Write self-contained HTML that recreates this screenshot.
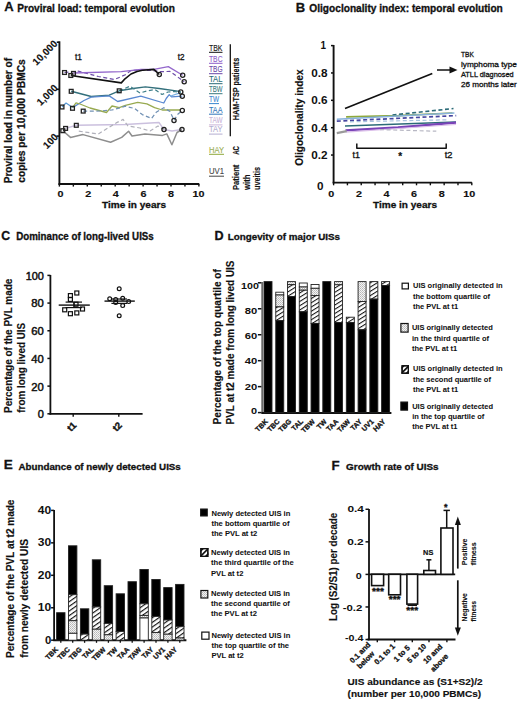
<!DOCTYPE html>
<html><head><meta charset="utf-8"><style>
html,body{margin:0;padding:0;background:#fff;overflow:hidden;}
svg{display:block;font-family:"Liberation Sans", sans-serif;}
</style></head><body>
<svg width="520" height="703" viewBox="0 0 520 703">
<rect width="520" height="703" fill="#fff"/>
<defs>
<pattern id="hatch" patternUnits="userSpaceOnUse" width="12" height="3.6" patternTransform="rotate(-32)"><rect width="12" height="3.6" fill="#fff"/><rect y="0" width="12" height="1.05" fill="#111"/></pattern>
<pattern id="hatch2" patternUnits="userSpaceOnUse" width="12" height="3.8" patternTransform="rotate(-35)"><rect width="12" height="3.8" fill="#fff"/><rect y="0" width="12" height="1.15" fill="#111"/></pattern>
<pattern id="dots" patternUnits="userSpaceOnUse" width="2" height="2"><rect width="2" height="2" fill="#f4f4f4"/><rect width="1" height="1" fill="#b8b8b8"/><rect x="1" y="1" width="1" height="1" fill="#c8c8c8"/></pattern>
</defs>
<text transform="translate(4.3,11.3)" font-size="13" font-weight="bold" fill="#111" text-anchor="start" stroke="#111" stroke-width="0.3">A</text>
<text transform="translate(17.3,11.5)" font-size="10" font-weight="bold" fill="#111" text-anchor="start" stroke="#111" stroke-width="0.3" textLength="157.5" lengthAdjust="spacingAndGlyphs">Proviral load: temporal evolution</text>
<text transform="translate(12.0,120.6) rotate(-90)" font-size="10" font-weight="bold" fill="#111" text-anchor="middle" stroke="#111" stroke-width="0.25" textLength="125.5" lengthAdjust="spacingAndGlyphs">Proviral load in number of</text>
<text transform="translate(24.6,121) rotate(-90)" font-size="10" font-weight="bold" fill="#111" text-anchor="middle" stroke="#111" stroke-width="0.25" textLength="123.5" lengthAdjust="spacingAndGlyphs">copies per 10,000 PBMCs</text>
<line x1="59.4" y1="41.3" x2="59.4" y2="184.8" stroke="#111" stroke-width="1.9" />
<line x1="56.8" y1="42.2" x2="59.4" y2="42.2" stroke="#111" stroke-width="1.6" />
<line x1="56.4" y1="89.3" x2="59.4" y2="89.3" stroke="#111" stroke-width="1.6" />
<line x1="56.4" y1="136.1" x2="59.4" y2="136.1" stroke="#111" stroke-width="1.6" />
<text transform="translate(58.2,44.4) rotate(-45)" font-size="10" font-weight="bold" fill="#111" text-anchor="end" stroke="#111" stroke-width="0.15">10,000</text>
<text transform="translate(58.5,88.6) rotate(-45)" font-size="10" font-weight="bold" fill="#111" text-anchor="end" stroke="#111" stroke-width="0.15">1,000</text>
<text transform="translate(58.8,137.6) rotate(-45)" font-size="10" font-weight="bold" fill="#111" text-anchor="end" stroke="#111" stroke-width="0.15">100</text>
<line x1="58.5" y1="184" x2="199.3" y2="184" stroke="#111" stroke-width="1.9" />
<line x1="59.4" y1="184" x2="59.4" y2="186.6" stroke="#111" stroke-width="1.4" />
<line x1="73.35" y1="184" x2="73.35" y2="186.6" stroke="#111" stroke-width="1.4" />
<line x1="87.3" y1="184" x2="87.3" y2="186.6" stroke="#111" stroke-width="1.4" />
<line x1="101.25" y1="184" x2="101.25" y2="186.6" stroke="#111" stroke-width="1.4" />
<line x1="115.19999999999999" y1="184" x2="115.19999999999999" y2="186.6" stroke="#111" stroke-width="1.4" />
<line x1="129.15" y1="184" x2="129.15" y2="186.6" stroke="#111" stroke-width="1.4" />
<line x1="143.1" y1="184" x2="143.1" y2="186.6" stroke="#111" stroke-width="1.4" />
<line x1="157.04999999999998" y1="184" x2="157.04999999999998" y2="186.6" stroke="#111" stroke-width="1.4" />
<line x1="171.0" y1="184" x2="171.0" y2="186.6" stroke="#111" stroke-width="1.4" />
<line x1="184.95" y1="184" x2="184.95" y2="186.6" stroke="#111" stroke-width="1.4" />
<line x1="198.9" y1="184" x2="198.9" y2="186.6" stroke="#111" stroke-width="1.4" />
<text transform="translate(60.6,197.1) scale(1.1,1)" font-size="9.8" font-weight="bold" fill="#111" text-anchor="middle" stroke="#111" stroke-width="0.15">0</text>
<text transform="translate(88.2,197.1) scale(1.1,1)" font-size="9.8" font-weight="bold" fill="#111" text-anchor="middle" stroke="#111" stroke-width="0.15">2</text>
<text transform="translate(115.80000000000001,197.1) scale(1.1,1)" font-size="9.8" font-weight="bold" fill="#111" text-anchor="middle" stroke="#111" stroke-width="0.15">4</text>
<text transform="translate(143.4,197.1) scale(1.1,1)" font-size="9.8" font-weight="bold" fill="#111" text-anchor="middle" stroke="#111" stroke-width="0.15">6</text>
<text transform="translate(171.0,197.1) scale(1.1,1)" font-size="9.8" font-weight="bold" fill="#111" text-anchor="middle" stroke="#111" stroke-width="0.15">8</text>
<text transform="translate(198.6,197.1) scale(1.1,1)" font-size="9.8" font-weight="bold" fill="#111" text-anchor="middle" stroke="#111" stroke-width="0.15">10</text>
<text transform="translate(134,208.3)" font-size="9.6" font-weight="bold" fill="#111" text-anchor="middle" stroke="#111" stroke-width="0.3" textLength="64" lengthAdjust="spacingAndGlyphs">Time in years</text>
<text transform="translate(75,59.9)" font-size="8.6" font-weight="normal" fill="#111" text-anchor="start" stroke="#111" stroke-width="0.3" textLength="7" lengthAdjust="spacingAndGlyphs">t1</text>
<text transform="translate(177.7,59.9)" font-size="8.6" font-weight="normal" fill="#111" text-anchor="start" stroke="#111" stroke-width="0.3" textLength="6.8" lengthAdjust="spacingAndGlyphs">t2</text>
<path d="M64.5,72.5 L78.2,71.2 L98.4,76.5 L114.5,79.5 L125.3,74.8 L131.0,70.5 L140.0,70.0 L152.0,70.5 L161.0,71.6 L170.0,71.4 L184.2,81.7" fill="none" stroke="#6c4ca8" stroke-width="1.2" stroke-linejoin="round" stroke-linecap="butt" stroke-dasharray="4,2.6" />
<path d="M73.5,73.0 L121.3,71.7 L128.0,70.8 L141.0,69.5 L153.9,69.4 L168.3,66.6 L182.7,75.2" fill="none" stroke="#9468cc" stroke-width="1.3" stroke-linejoin="round" stroke-linecap="butt" />
<path d="M70.8,75.5 L121.3,82.9 L125.0,78.8 L131.0,74.0 L137.0,71.5 L142.3,70.2 L153.9,69.4 L159.3,74.5" fill="none" stroke="#111" stroke-width="1.6" stroke-linejoin="round" stroke-linecap="butt" />
<path d="M71.2,91.3 L91.2,96.5 L109.2,95.2 L119.2,90.8 L133.0,88.5 L145.4,86.9 L159.2,88.5 L177.7,91.1 L180.8,92.0" fill="none" stroke="#33707c" stroke-width="1.4" stroke-linejoin="round" stroke-linecap="butt" />
<path d="M119.2,90.8 L130.0,86.2 L134.6,89.5 L140.0,93.0 L147.0,91.0 L155.0,89.5 L162.0,94.5 L168.0,92.0 L175.0,91.5 L181.0,93.0" fill="none" stroke="#40808a" stroke-width="1.2" stroke-linejoin="round" stroke-linecap="butt" stroke-dasharray="4,2.6" />
<path d="M72.5,107.6 L84.0,100.5 L91.2,97.2 L109.2,95.9 L117.7,101.5 L140.8,96.2 L163.8,103.0 L166.2,98.5 L169.2,94.6 L171.5,96.9 L182.3,96.2" fill="none" stroke="#5a88d0" stroke-width="1.3" stroke-linejoin="round" stroke-linecap="butt" />
<path d="M62.0,107.0 L66.0,103.0 L69.0,105.0 L72.5,107.6" fill="none" stroke="#5a9ad6" stroke-width="1.2" stroke-linejoin="round" stroke-linecap="butt" />
<path d="M170.0,96.2 L179.2,93.1" fill="none" stroke="#7ab0e0" stroke-width="1.2" stroke-linejoin="round" stroke-linecap="butt" />
<path d="M72.5,107.6 L76.0,102.8 L80.0,104.0 L90.0,108.0 L106.5,112.5 L112.0,106.0 L119.2,107.7 L125.4,105.4 L137.7,102.3 L146.9,103.8 L154.6,107.7 L162.3,110.0 L180.8,110.0" fill="none" stroke="#98aa50" stroke-width="1.3" stroke-linejoin="round" stroke-linecap="butt" />
<path d="M83.2,111.1 L100.0,111.0 L112.0,110.0 L125.4,106.2 L134.6,108.5 L142.3,114.6 L151.5,118.5 L156.2,112.3 L163.8,107.7 L170.0,111.5 L174.0,120.2 L178.0,114.0 L182.7,110.4" fill="none" stroke="#7090b4" stroke-width="1.25" stroke-linejoin="round" stroke-linecap="butt" stroke-dasharray="4,2.6" />
<path d="M65.6,128.4 L76.3,125.3 L125.0,124.5 L158.9,122.4 L164.0,129.6 L172.0,131.0 L182.0,129.6" fill="none" stroke="#cbc0de" stroke-width="1.5" stroke-linejoin="round" stroke-linecap="butt" />
<path d="M78.8,131.2 L98.2,134.0 L116.2,122.9 L123.1,119.4 L128.0,126.0 L140.0,128.0 L150.0,131.0 L158.0,126.0 L164.0,129.6" fill="none" stroke="#b0b0ba" stroke-width="1.2" stroke-linejoin="round" stroke-linecap="butt" stroke-dasharray="4,2.6" />
<path d="M62.8,130.7 L70.5,137.4 L83.0,134.6 L110.6,142.2 L121.7,137.4 L128.6,131.2 L132.0,136.0 L145.0,134.0 L162.5,135.4 L166.8,133.9 L171.9,144.7 L177.0,132.5 L182.0,129.6" fill="none" stroke="#8e8e8e" stroke-width="1.5" stroke-linejoin="round" stroke-linecap="butt" />
<rect x="62.60" y="70.60" width="3.80" height="3.80" fill="none" stroke="#222" stroke-width="1.3"/>
<rect x="71.60" y="71.50" width="3.80" height="3.80" fill="none" stroke="#222" stroke-width="1.3"/>
<rect x="68.90" y="73.60" width="3.80" height="3.80" fill="none" stroke="#222" stroke-width="1.3"/>
<rect x="69.30" y="89.40" width="3.80" height="3.80" fill="none" stroke="#222" stroke-width="1.3"/>
<rect x="117.30" y="88.90" width="3.80" height="3.80" fill="none" stroke="#222" stroke-width="1.3"/>
<rect x="60.10" y="105.10" width="3.80" height="3.80" fill="none" stroke="#222" stroke-width="1.3"/>
<rect x="70.60" y="106.40" width="3.80" height="3.80" fill="none" stroke="#222" stroke-width="1.3"/>
<rect x="81.30" y="109.20" width="3.80" height="3.80" fill="none" stroke="#222" stroke-width="1.3"/>
<rect x="60.90" y="128.80" width="3.80" height="3.80" fill="none" stroke="#222" stroke-width="1.3"/>
<rect x="63.70" y="126.50" width="3.80" height="3.80" fill="none" stroke="#222" stroke-width="1.3"/>
<rect x="74.40" y="123.40" width="3.80" height="3.80" fill="none" stroke="#222" stroke-width="1.3"/>
<circle cx="159.3" cy="74.5" r="2.1" fill="none" stroke="#222" stroke-width="1.3"/>
<circle cx="182.7" cy="75.2" r="2.1" fill="none" stroke="#222" stroke-width="1.3"/>
<circle cx="184.2" cy="81.7" r="2.1" fill="none" stroke="#222" stroke-width="1.3"/>
<circle cx="180.8" cy="92" r="2.1" fill="none" stroke="#222" stroke-width="1.3"/>
<circle cx="182.3" cy="96.2" r="2.1" fill="none" stroke="#222" stroke-width="1.3"/>
<circle cx="182.3" cy="110.5" r="2.1" fill="none" stroke="#222" stroke-width="1.3"/>
<circle cx="174" cy="120.5" r="2.1" fill="none" stroke="#222" stroke-width="1.3"/>
<circle cx="164" cy="129.6" r="2.1" fill="none" stroke="#222" stroke-width="1.3"/>
<circle cx="182" cy="129.6" r="2.1" fill="none" stroke="#222" stroke-width="1.3"/>
<text transform="translate(209,50.6)" font-size="8.5" font-weight="normal" fill="#111" text-anchor="start" stroke="#111" stroke-width="0.1" textLength="13.5" lengthAdjust="spacingAndGlyphs">TBK</text>
<line x1="209" y1="52.300000000000004" x2="222.5" y2="52.300000000000004" stroke="#111" stroke-width="1.0" />
<text transform="translate(209,61.6)" font-size="8.5" font-weight="normal" fill="#8c5cc8" text-anchor="start" stroke="#8c5cc8" stroke-width="0.1" textLength="13.5" lengthAdjust="spacingAndGlyphs">TBC</text>
<line x1="209" y1="63.300000000000004" x2="222.5" y2="63.300000000000004" stroke="#8c5cc8" stroke-width="1.0" />
<text transform="translate(209,72)" font-size="8.5" font-weight="normal" fill="#6a48a8" text-anchor="start" stroke="#6a48a8" stroke-width="0.1" textLength="13.5" lengthAdjust="spacingAndGlyphs">TBG</text>
<line x1="209" y1="73.7" x2="222.5" y2="73.7" stroke="#6a48a8" stroke-width="1.0" />
<text transform="translate(209,82)" font-size="8.5" font-weight="normal" fill="#2c6b78" text-anchor="start" stroke="#2c6b78" stroke-width="0.1" textLength="13.5" lengthAdjust="spacingAndGlyphs">TAL</text>
<line x1="209" y1="83.7" x2="222.5" y2="83.7" stroke="#2c6b78" stroke-width="1.0" />
<text transform="translate(209,92)" font-size="8.5" font-weight="normal" fill="#3a7a80" text-anchor="start" stroke="#3a7a80" stroke-width="0.1" textLength="13.5" lengthAdjust="spacingAndGlyphs">TBW</text>
<line x1="209" y1="93.7" x2="222.5" y2="93.7" stroke="#3a7a80" stroke-width="1.0" />
<text transform="translate(209,101.9)" font-size="8.5" font-weight="normal" fill="#3a87d0" text-anchor="start" stroke="#3a87d0" stroke-width="0.1" textLength="10" lengthAdjust="spacingAndGlyphs">TW</text>
<line x1="209" y1="103.60000000000001" x2="219" y2="103.60000000000001" stroke="#3a87d0" stroke-width="1.0" />
<text transform="translate(209,112.5)" font-size="8.5" font-weight="normal" fill="#2f74b8" text-anchor="start" stroke="#2f74b8" stroke-width="0.1" textLength="13.5" lengthAdjust="spacingAndGlyphs">TAA</text>
<line x1="209" y1="114.2" x2="222.5" y2="114.2" stroke="#2f74b8" stroke-width="1.0" />
<text transform="translate(209,123.2)" font-size="8.5" font-weight="normal" fill="#c9b4d8" text-anchor="start" stroke="#c9b4d8" stroke-width="0.1" textLength="13.5" lengthAdjust="spacingAndGlyphs">TAW</text>
<line x1="209" y1="124.9" x2="222.5" y2="124.9" stroke="#c9b4d8" stroke-width="1.0" />
<text transform="translate(209,132.4)" font-size="8.5" font-weight="normal" fill="#b4aed0" text-anchor="start" stroke="#b4aed0" stroke-width="0.1" textLength="13.5" lengthAdjust="spacingAndGlyphs">TAY</text>
<line x1="209" y1="134.1" x2="222.5" y2="134.1" stroke="#b4aed0" stroke-width="1.0" />
<line x1="230.3" y1="44.2" x2="230.3" y2="136.3" stroke="#111" stroke-width="1.3" />
<text transform="translate(239.3,89) rotate(-90)" font-size="9" font-weight="bold" fill="#111" text-anchor="middle" stroke="#111" stroke-width="0.15" textLength="62.5" lengthAdjust="spacingAndGlyphs">HAM-TSP patients</text>
<text transform="translate(209,152.5)" font-size="8.3" font-weight="normal" fill="#98ac50" text-anchor="start" stroke="#98ac50" stroke-width="0.1" textLength="15" lengthAdjust="spacingAndGlyphs">HAY</text>
<line x1="209" y1="154.3" x2="224" y2="154.3" stroke="#8ea83a" stroke-width="1.0" />
<text transform="translate(209,174.4)" font-size="8.3" font-weight="normal" fill="#444" text-anchor="start" stroke="#444" stroke-width="0.1" textLength="15" lengthAdjust="spacingAndGlyphs">UV1</text>
<line x1="209" y1="176.2" x2="224" y2="176.2" stroke="#444" stroke-width="1.0" />
<text transform="translate(239,154.8) rotate(-90)" font-size="9" font-weight="bold" fill="#111" text-anchor="start" stroke="#111" stroke-width="0.15" textLength="8.8" lengthAdjust="spacingAndGlyphs">AC</text>
<text transform="translate(239,190) rotate(-90)" font-size="9" font-weight="bold" fill="#111" text-anchor="start" stroke="#111" stroke-width="0.15" textLength="25.4" lengthAdjust="spacingAndGlyphs">Patient</text>
<text transform="translate(250,190) rotate(-90)" font-size="9" font-weight="bold" fill="#111" text-anchor="start" stroke="#111" stroke-width="0.15" textLength="15.6" lengthAdjust="spacingAndGlyphs">with</text>
<text transform="translate(260.4,190) rotate(-90)" font-size="9" font-weight="bold" fill="#111" text-anchor="start" stroke="#111" stroke-width="0.15" textLength="23" lengthAdjust="spacingAndGlyphs">uveitis</text>
<text transform="translate(295.8,11.5)" font-size="13" font-weight="bold" fill="#111" text-anchor="start" stroke="#111" stroke-width="0.3">B</text>
<text transform="translate(309.3,11.5)" font-size="10" font-weight="bold" fill="#111" text-anchor="start" stroke="#111" stroke-width="0.3" textLength="193.5" lengthAdjust="spacingAndGlyphs">Oligoclonality index: temporal  evolution</text>
<line x1="333.6" y1="45" x2="333.6" y2="183.3" stroke="#111" stroke-width="1.9" />
<line x1="331.0" y1="45.599999999999994" x2="333.6" y2="45.599999999999994" stroke="#111" stroke-width="1.5" />
<text transform="translate(326.06,49.0)" font-size="10.2" font-weight="bold" fill="#111" text-anchor="end" textLength="5.52" lengthAdjust="spacingAndGlyphs">1</text>
<line x1="331.0" y1="72.96" x2="333.6" y2="72.96" stroke="#111" stroke-width="1.5" />
<text transform="translate(327.46,76.96)" font-size="10.2" font-weight="bold" fill="#111" text-anchor="end" textLength="16.32" lengthAdjust="spacingAndGlyphs">0.8</text>
<line x1="331.0" y1="100.32000000000001" x2="333.6" y2="100.32000000000001" stroke="#111" stroke-width="1.5" />
<text transform="translate(327.46,104.32000000000001)" font-size="10.2" font-weight="bold" fill="#111" text-anchor="end" textLength="16.32" lengthAdjust="spacingAndGlyphs">0.6</text>
<line x1="331.0" y1="127.68" x2="333.6" y2="127.68" stroke="#111" stroke-width="1.5" />
<text transform="translate(327.46,131.68)" font-size="10.2" font-weight="bold" fill="#111" text-anchor="end" textLength="16.32" lengthAdjust="spacingAndGlyphs">0.4</text>
<line x1="331.0" y1="155.04" x2="333.6" y2="155.04" stroke="#111" stroke-width="1.5" />
<text transform="translate(327.46,159.04)" font-size="10.2" font-weight="bold" fill="#111" text-anchor="end" textLength="16.32" lengthAdjust="spacingAndGlyphs">0.2</text>
<text transform="translate(323.56,189.6)" font-size="10.2" font-weight="bold" fill="#111" text-anchor="end" textLength="6.52" lengthAdjust="spacingAndGlyphs">0</text>
<text transform="translate(303.0,117.6) rotate(-90)" font-size="10" font-weight="bold" fill="#111" text-anchor="middle" stroke="#111" stroke-width="0.15" textLength="96.5" lengthAdjust="spacingAndGlyphs">Oligoclonality index</text>
<line x1="332.7" y1="182.6" x2="471.9" y2="182.6" stroke="#111" stroke-width="1.9" />
<line x1="333.6" y1="182.6" x2="333.6" y2="185.3" stroke="#111" stroke-width="1.4" />
<line x1="347.42" y1="182.6" x2="347.42" y2="185.3" stroke="#111" stroke-width="1.4" />
<line x1="361.24" y1="182.6" x2="361.24" y2="185.3" stroke="#111" stroke-width="1.4" />
<line x1="375.06" y1="182.6" x2="375.06" y2="185.3" stroke="#111" stroke-width="1.4" />
<line x1="388.88" y1="182.6" x2="388.88" y2="185.3" stroke="#111" stroke-width="1.4" />
<line x1="402.70000000000005" y1="182.6" x2="402.70000000000005" y2="185.3" stroke="#111" stroke-width="1.4" />
<line x1="416.52000000000004" y1="182.6" x2="416.52000000000004" y2="185.3" stroke="#111" stroke-width="1.4" />
<line x1="430.34000000000003" y1="182.6" x2="430.34000000000003" y2="185.3" stroke="#111" stroke-width="1.4" />
<line x1="444.16" y1="182.6" x2="444.16" y2="185.3" stroke="#111" stroke-width="1.4" />
<line x1="457.98" y1="182.6" x2="457.98" y2="185.3" stroke="#111" stroke-width="1.4" />
<line x1="471.8" y1="182.6" x2="471.8" y2="185.3" stroke="#111" stroke-width="1.4" />
<text transform="translate(331.3,197.3) scale(1.1,1)" font-size="9.8" font-weight="bold" fill="#111" text-anchor="middle" stroke="#111" stroke-width="0.15">0</text>
<text transform="translate(358.90000000000003,197.3) scale(1.1,1)" font-size="9.8" font-weight="bold" fill="#111" text-anchor="middle" stroke="#111" stroke-width="0.15">2</text>
<text transform="translate(386.5,197.3) scale(1.1,1)" font-size="9.8" font-weight="bold" fill="#111" text-anchor="middle" stroke="#111" stroke-width="0.15">4</text>
<text transform="translate(414.1,197.3) scale(1.1,1)" font-size="9.8" font-weight="bold" fill="#111" text-anchor="middle" stroke="#111" stroke-width="0.15">6</text>
<text transform="translate(441.70000000000005,197.3) scale(1.1,1)" font-size="9.8" font-weight="bold" fill="#111" text-anchor="middle" stroke="#111" stroke-width="0.15">8</text>
<text transform="translate(469.3,197.3) scale(1.1,1)" font-size="9.8" font-weight="bold" fill="#111" text-anchor="middle" stroke="#111" stroke-width="0.15">10</text>
<text transform="translate(405,208.3)" font-size="9.6" font-weight="bold" fill="#111" text-anchor="middle" stroke="#111" stroke-width="0.3" textLength="64" lengthAdjust="spacingAndGlyphs">Time in years</text>
<path d="M345.0,108.5 L432.3,73.5" fill="none" stroke="#111" stroke-width="1.7" stroke-linejoin="round" stroke-linecap="butt" />
<line x1="437" y1="70" x2="451" y2="70" stroke="#111" stroke-width="1.5" />
<path d="M449.5,66.6 L457.5,70 L449.5,73.4 Z" fill="#111"/>
<text transform="translate(461,57.3)" font-size="7.7" font-weight="normal" fill="#111" text-anchor="start" stroke="#111" stroke-width="0.3" textLength="12.8" lengthAdjust="spacingAndGlyphs">TBK</text>
<text transform="translate(461,67)" font-size="7.7" font-weight="normal" fill="#111" text-anchor="start" stroke="#111" stroke-width="0.3" textLength="55.8" lengthAdjust="spacingAndGlyphs">lymphoma type</text>
<text transform="translate(461,77.4)" font-size="7.7" font-weight="normal" fill="#111" text-anchor="start" stroke="#111" stroke-width="0.3" textLength="52.7" lengthAdjust="spacingAndGlyphs">ATLL diagnosed</text>
<text transform="translate(461,86.8)" font-size="7.7" font-weight="normal" fill="#111" text-anchor="start" stroke="#111" stroke-width="0.3" textLength="55.8" lengthAdjust="spacingAndGlyphs">26 months later</text>
<path d="M346.1,116.9 L398.0,115.6 L452.5,113.0" fill="none" stroke="#8ea83a" stroke-width="1.6" stroke-linejoin="round" stroke-linecap="butt" />
<path d="M392.5,115.0 L453.5,108.5" fill="none" stroke="#2c6b78" stroke-width="1.6" stroke-linejoin="round" stroke-linecap="butt" stroke-dasharray="4,2.6" />
<path d="M336.8,119.2 L454.4,112.9" fill="none" stroke="#86b2dc" stroke-width="1.5" stroke-linejoin="round" stroke-linecap="butt" />
<path d="M336.8,121.2 L456.2,115.6" fill="none" stroke="#4646a0" stroke-width="1.7" stroke-linejoin="round" stroke-linecap="butt" stroke-dasharray="4,2.6" />
<path d="M350.0,121.8 L447.5,119.8" fill="none" stroke="#a8c4e0" stroke-width="1.2" stroke-linejoin="round" stroke-linecap="butt" stroke-dasharray="4,2.6" />
<path d="M345.0,126.0 L456.0,122.0" fill="none" stroke="#2c6b78" stroke-width="1.5" stroke-linejoin="round" stroke-linecap="butt" />
<path d="M345.5,130.3 L398.0,127.5 L456.0,122.6" fill="none" stroke="#7a44b8" stroke-width="2.3" stroke-linejoin="round" stroke-linecap="butt" />
<path d="M345.5,132.2 L456.0,124.5" fill="none" stroke="#dcc0ea" stroke-width="1.2" stroke-linejoin="round" stroke-linecap="butt" />
<path d="M336.8,133.1 L346.7,131.2" fill="none" stroke="#9a9a9a" stroke-width="2.3" stroke-linejoin="round" stroke-linecap="butt" />
<path d="M380.0,129.6 L436.3,131.2" fill="none" stroke="#b8b8c4" stroke-width="1.2" stroke-linejoin="round" stroke-linecap="butt" stroke-dasharray="4,2.6" />
<path d="M356.8,143.5 L356.8,148.3 L446.2,148.3 L446.2,143.5" fill="none" stroke="#111" stroke-width="1.5" stroke-linejoin="round" stroke-linecap="butt" />
<text transform="translate(352.5,157.8)" font-size="8.6" font-weight="normal" fill="#111" text-anchor="start" stroke="#111" stroke-width="0.3" textLength="7.5" lengthAdjust="spacingAndGlyphs">t1</text>
<text transform="translate(400.3,159.9)" font-size="10" font-weight="bold" fill="#111" text-anchor="middle" stroke="#111" stroke-width="0.2">*</text>
<text transform="translate(444.7,157.8)" font-size="8.6" font-weight="normal" fill="#111" text-anchor="start" stroke="#111" stroke-width="0.3" textLength="7.8" lengthAdjust="spacingAndGlyphs">t2</text>
<text transform="translate(1.3,239.7)" font-size="12.3" font-weight="bold" fill="#111" text-anchor="start" stroke="#111" stroke-width="0.3">C</text>
<text transform="translate(16.2,239.8)" font-size="10" font-weight="bold" fill="#111" text-anchor="start" stroke="#111" stroke-width="0.3" textLength="137.6" lengthAdjust="spacingAndGlyphs">Dominance of long-lived UISs</text>
<line x1="50.4" y1="275" x2="50.4" y2="414.6" stroke="#111" stroke-width="1.8" />
<line x1="47.4" y1="275.40000000000003" x2="50.4" y2="275.40000000000003" stroke="#111" stroke-width="1.5" />
<text transform="translate(43.86,279.8)" font-size="10.3" font-weight="normal" fill="#111" text-anchor="end" stroke="#111" stroke-width="0.45" textLength="18.23" lengthAdjust="spacingAndGlyphs">100</text>
<line x1="47.4" y1="303.08000000000004" x2="50.4" y2="303.08000000000004" stroke="#111" stroke-width="1.5" />
<text transform="translate(43.86,307.48)" font-size="10.3" font-weight="normal" fill="#111" text-anchor="end" stroke="#111" stroke-width="0.45" textLength="12.53" lengthAdjust="spacingAndGlyphs">80</text>
<line x1="47.4" y1="330.76" x2="50.4" y2="330.76" stroke="#111" stroke-width="1.5" />
<text transform="translate(43.86,335.15999999999997)" font-size="10.3" font-weight="normal" fill="#111" text-anchor="end" stroke="#111" stroke-width="0.45" textLength="12.53" lengthAdjust="spacingAndGlyphs">60</text>
<line x1="47.4" y1="358.44" x2="50.4" y2="358.44" stroke="#111" stroke-width="1.5" />
<text transform="translate(43.86,362.84)" font-size="10.3" font-weight="normal" fill="#111" text-anchor="end" stroke="#111" stroke-width="0.45" textLength="12.53" lengthAdjust="spacingAndGlyphs">40</text>
<line x1="47.4" y1="386.12" x2="50.4" y2="386.12" stroke="#111" stroke-width="1.5" />
<text transform="translate(43.86,390.52)" font-size="10.3" font-weight="normal" fill="#111" text-anchor="end" stroke="#111" stroke-width="0.45" textLength="12.53" lengthAdjust="spacingAndGlyphs">20</text>
<line x1="47.4" y1="413.8" x2="50.4" y2="413.8" stroke="#111" stroke-width="1.5" />
<text transform="translate(43.86,418.2)" font-size="10.3" font-weight="normal" fill="#111" text-anchor="end" stroke="#111" stroke-width="0.45" textLength="6.13" lengthAdjust="spacingAndGlyphs">0</text>
<line x1="49.5" y1="413.8" x2="142.6" y2="413.8" stroke="#111" stroke-width="1.8" />
<line x1="73.2" y1="413.8" x2="73.2" y2="416.8" stroke="#111" stroke-width="1.4" />
<line x1="118.8" y1="413.8" x2="118.8" y2="416.8" stroke="#111" stroke-width="1.4" />
<text transform="translate(77.0,425.9) rotate(-45)" font-size="9.6" font-weight="bold" fill="#111" text-anchor="end" stroke="#111" stroke-width="0.4">t1</text>
<text transform="translate(122.6,425.9) rotate(-45)" font-size="9.6" font-weight="bold" fill="#111" text-anchor="end" stroke="#111" stroke-width="0.4">t2</text>
<text transform="translate(12.0,413.0) rotate(-90)" font-size="10.3" font-weight="bold" fill="#111" text-anchor="start" stroke="#111" stroke-width="0.15" textLength="134.4" lengthAdjust="spacingAndGlyphs">Percentage of the PVL made</text>
<text transform="translate(25.0,412.7) rotate(-90)" font-size="10.3" font-weight="bold" fill="#111" text-anchor="start" stroke="#111" stroke-width="0.15" textLength="89.8" lengthAdjust="spacingAndGlyphs">from long lived UIS</text>
<rect x="68.40" y="293.60" width="4.00" height="4.00" fill="none" stroke="#111" stroke-width="1.2"/>
<rect x="74.80" y="291.00" width="4.00" height="4.00" fill="none" stroke="#111" stroke-width="1.2"/>
<rect x="68.40" y="297.40" width="4.00" height="4.00" fill="none" stroke="#111" stroke-width="1.2"/>
<rect x="74.00" y="302.20" width="4.00" height="4.00" fill="none" stroke="#111" stroke-width="1.2"/>
<rect x="62.70" y="307.80" width="4.00" height="4.00" fill="none" stroke="#111" stroke-width="1.2"/>
<rect x="80.50" y="307.00" width="4.00" height="4.00" fill="none" stroke="#111" stroke-width="1.2"/>
<rect x="68.40" y="311.70" width="4.00" height="4.00" fill="none" stroke="#111" stroke-width="1.2"/>
<rect x="74.80" y="310.90" width="4.00" height="4.00" fill="none" stroke="#111" stroke-width="1.2"/>
<line x1="58.7" y1="305.1" x2="89.8" y2="305.1" stroke="#111" stroke-width="1.4" />
<line x1="65.6" y1="302.1" x2="82" y2="302.1" stroke="#111" stroke-width="1.2" />
<line x1="65.6" y1="307.6" x2="82" y2="307.6" stroke="#111" stroke-width="1.2" />
<line x1="74" y1="302.1" x2="74" y2="307.6" stroke="#111" stroke-width="1.2" />
<circle cx="119.2" cy="288.7" r="1.9" fill="none" stroke="#111" stroke-width="1.2"/>
<circle cx="109.7" cy="298.7" r="1.9" fill="none" stroke="#111" stroke-width="1.2"/>
<circle cx="115.7" cy="299.4" r="1.9" fill="none" stroke="#111" stroke-width="1.2"/>
<circle cx="122.7" cy="298.2" r="1.9" fill="none" stroke="#111" stroke-width="1.2"/>
<circle cx="128.7" cy="301.6" r="1.9" fill="none" stroke="#111" stroke-width="1.2"/>
<circle cx="115.7" cy="302.5" r="1.9" fill="none" stroke="#111" stroke-width="1.2"/>
<circle cx="122.7" cy="305.6" r="1.9" fill="none" stroke="#111" stroke-width="1.2"/>
<circle cx="119.2" cy="315.8" r="1.9" fill="none" stroke="#111" stroke-width="1.2"/>
<line x1="104.5" y1="301.1" x2="134.8" y2="301.1" stroke="#111" stroke-width="1.4" />
<line x1="111.4" y1="299" x2="127" y2="299" stroke="#111" stroke-width="1.2" />
<line x1="111.4" y1="303.4" x2="127" y2="303.4" stroke="#111" stroke-width="1.2" />
<text transform="translate(214.4,240.2)" font-size="12.6" font-weight="bold" fill="#111" text-anchor="start" stroke="#111" stroke-width="0.3">D</text>
<text transform="translate(227.7,240.2)" font-size="9.3" font-weight="bold" fill="#111" text-anchor="start" stroke="#111" stroke-width="0.3" textLength="112.3" lengthAdjust="spacingAndGlyphs">Longevity of major UISs</text>
<line x1="262.2" y1="282" x2="262.2" y2="412.5" stroke="#6a6a6a" stroke-width="1.8" />
<line x1="257.9" y1="282.8" x2="261.4" y2="282.8" stroke="#111" stroke-width="1.5" />
<line x1="257.9" y1="308.76" x2="261.4" y2="308.76" stroke="#111" stroke-width="1.5" />
<line x1="257.9" y1="334.72" x2="261.4" y2="334.72" stroke="#111" stroke-width="1.5" />
<line x1="257.9" y1="360.68" x2="261.4" y2="360.68" stroke="#111" stroke-width="1.5" />
<line x1="257.9" y1="386.64000000000004" x2="261.4" y2="386.64000000000004" stroke="#111" stroke-width="1.5" />
<line x1="257.9" y1="412.6" x2="261.4" y2="412.6" stroke="#111" stroke-width="1.5" />
<text transform="translate(257.15,314.3)" font-size="9.9" font-weight="bold" fill="#111" text-anchor="end" textLength="12.49" lengthAdjust="spacingAndGlyphs">80</text>
<text transform="translate(257.15,339.2)" font-size="9.9" font-weight="bold" fill="#111" text-anchor="end" textLength="12.49" lengthAdjust="spacingAndGlyphs">60</text>
<text transform="translate(257.15,364.4)" font-size="9.9" font-weight="bold" fill="#111" text-anchor="end" textLength="12.49" lengthAdjust="spacingAndGlyphs">40</text>
<text transform="translate(257.15,389.6)" font-size="9.9" font-weight="bold" fill="#111" text-anchor="end" textLength="12.49" lengthAdjust="spacingAndGlyphs">20</text>
<text transform="translate(257.15,414.4)" font-size="9.9" font-weight="bold" fill="#111" text-anchor="end" textLength="6.09" lengthAdjust="spacingAndGlyphs">0</text>
<text transform="translate(258.85,288.5)" font-size="9.9" font-weight="bold" fill="#111" text-anchor="end" textLength="17.79" lengthAdjust="spacingAndGlyphs">100</text>
<line x1="261.3" y1="413.0" x2="391.4" y2="413.0" stroke="#111" stroke-width="1.9" />
<text transform="translate(220.8,424.4) rotate(-90)" font-size="10.4" font-weight="bold" fill="#111" text-anchor="start" stroke="#111" stroke-width="0.15" textLength="155.3" lengthAdjust="spacingAndGlyphs">Percentage of the top quartile of</text>
<text transform="translate(234.3,424.4) rotate(-90)" font-size="10.4" font-weight="bold" fill="#111" text-anchor="start" stroke="#111" stroke-width="0.15" textLength="163.8" lengthAdjust="spacingAndGlyphs">PVL at t2 made from long lived UIS</text>
<rect x="264.00" y="281.60" width="8.00" height="130.90" fill="#000" stroke="#222" stroke-width="0.9"/>
<rect x="275.76" y="292.20" width="8.00" height="2.80" fill="#fff" stroke="#222" stroke-width="0.9"/>
<rect x="275.76" y="295.00" width="8.00" height="11.90" fill="url(#dots)" stroke="#222" stroke-width="0.9"/>
<rect x="275.76" y="306.90" width="8.00" height="13.80" fill="url(#hatch)" stroke="#222" stroke-width="0.9"/>
<rect x="275.76" y="320.70" width="8.00" height="91.80" fill="#000" stroke="#222" stroke-width="0.9"/>
<rect x="287.52" y="281.60" width="8.00" height="3.10" fill="url(#dots)" stroke="#222" stroke-width="0.9"/>
<rect x="287.52" y="284.70" width="8.00" height="11.90" fill="url(#hatch)" stroke="#222" stroke-width="0.9"/>
<rect x="287.52" y="296.60" width="8.00" height="115.90" fill="#000" stroke="#222" stroke-width="0.9"/>
<rect x="299.28" y="283.00" width="8.00" height="4.00" fill="#fff" stroke="#222" stroke-width="0.9"/>
<rect x="299.28" y="287.00" width="8.00" height="3.20" fill="url(#dots)" stroke="#222" stroke-width="0.9"/>
<rect x="299.28" y="290.20" width="8.00" height="21.60" fill="url(#hatch)" stroke="#222" stroke-width="0.9"/>
<rect x="299.28" y="311.80" width="8.00" height="100.70" fill="#000" stroke="#222" stroke-width="0.9"/>
<rect x="311.04" y="284.50" width="8.00" height="3.80" fill="#fff" stroke="#222" stroke-width="0.9"/>
<rect x="311.04" y="288.30" width="8.00" height="7.30" fill="url(#dots)" stroke="#222" stroke-width="0.9"/>
<rect x="311.04" y="295.60" width="8.00" height="27.80" fill="url(#hatch)" stroke="#222" stroke-width="0.9"/>
<rect x="311.04" y="323.40" width="8.00" height="89.10" fill="#000" stroke="#222" stroke-width="0.9"/>
<rect x="322.80" y="281.60" width="8.00" height="130.90" fill="#000" stroke="#222" stroke-width="0.9"/>
<rect x="334.56" y="281.60" width="8.00" height="3.20" fill="url(#dots)" stroke="#222" stroke-width="0.9"/>
<rect x="334.56" y="284.80" width="8.00" height="37.80" fill="url(#hatch)" stroke="#222" stroke-width="0.9"/>
<rect x="334.56" y="322.60" width="8.00" height="89.90" fill="#000" stroke="#222" stroke-width="0.9"/>
<rect x="346.32" y="317.20" width="8.00" height="5.40" fill="url(#hatch)" stroke="#222" stroke-width="0.9"/>
<rect x="346.32" y="322.60" width="8.00" height="89.90" fill="#000" stroke="#222" stroke-width="0.9"/>
<rect x="358.08" y="281.60" width="8.00" height="19.90" fill="url(#dots)" stroke="#222" stroke-width="0.9"/>
<rect x="358.08" y="301.50" width="8.00" height="28.30" fill="url(#hatch)" stroke="#222" stroke-width="0.9"/>
<rect x="358.08" y="329.80" width="8.00" height="82.70" fill="#000" stroke="#222" stroke-width="0.9"/>
<rect x="369.84" y="281.60" width="8.00" height="17.50" fill="url(#hatch)" stroke="#222" stroke-width="0.9"/>
<rect x="369.84" y="299.10" width="8.00" height="113.40" fill="#000" stroke="#222" stroke-width="0.9"/>
<rect x="381.60" y="281.60" width="8.00" height="4.00" fill="url(#hatch)" stroke="#222" stroke-width="0.9"/>
<rect x="381.60" y="285.60" width="8.00" height="126.90" fill="#000" stroke="#222" stroke-width="0.9"/>
<text transform="translate(268.3,422.0) rotate(-45)" font-size="7.0" font-weight="bold" fill="#111" text-anchor="end" stroke="#111" stroke-width="0.3">TBK</text>
<text transform="translate(280.06,422.0) rotate(-45)" font-size="7.0" font-weight="bold" fill="#111" text-anchor="end" stroke="#111" stroke-width="0.3">TBC</text>
<text transform="translate(291.82,422.0) rotate(-45)" font-size="7.0" font-weight="bold" fill="#111" text-anchor="end" stroke="#111" stroke-width="0.3">TBG</text>
<text transform="translate(303.58,422.0) rotate(-45)" font-size="7.0" font-weight="bold" fill="#111" text-anchor="end" stroke="#111" stroke-width="0.3">TAL</text>
<text transform="translate(315.34000000000003,422.0) rotate(-45)" font-size="7.0" font-weight="bold" fill="#111" text-anchor="end" stroke="#111" stroke-width="0.3">TBW</text>
<text transform="translate(327.1,422.0) rotate(-45)" font-size="7.0" font-weight="bold" fill="#111" text-anchor="end" stroke="#111" stroke-width="0.3">TW</text>
<text transform="translate(338.86,422.0) rotate(-45)" font-size="7.0" font-weight="bold" fill="#111" text-anchor="end" stroke="#111" stroke-width="0.3">TAA</text>
<text transform="translate(350.62,422.0) rotate(-45)" font-size="7.0" font-weight="bold" fill="#111" text-anchor="end" stroke="#111" stroke-width="0.3">TAW</text>
<text transform="translate(362.38,422.0) rotate(-45)" font-size="7.0" font-weight="bold" fill="#111" text-anchor="end" stroke="#111" stroke-width="0.3">TAY</text>
<text transform="translate(374.14000000000004,422.0) rotate(-45)" font-size="7.0" font-weight="bold" fill="#111" text-anchor="end" stroke="#111" stroke-width="0.3">UV1</text>
<text transform="translate(385.90000000000003,422.0) rotate(-45)" font-size="7.0" font-weight="bold" fill="#111" text-anchor="end" stroke="#111" stroke-width="0.3">HAY</text>
<rect x="402.10" y="283.20" width="6.30" height="5.70" fill="#fff" stroke="#111" stroke-width="1.2"/>
<text transform="translate(413,288.2)" font-size="7.5" font-weight="bold" fill="#111" text-anchor="start" stroke="#111" stroke-width="0.05">UIS originally detected in</text>
<text transform="translate(413,298.8)" font-size="7.5" font-weight="bold" fill="#111" text-anchor="start" stroke="#111" stroke-width="0.05">the bottom quartile of</text>
<text transform="translate(413,309.4)" font-size="7.5" font-weight="bold" fill="#111" text-anchor="start" stroke="#111" stroke-width="0.05">the PVL at t1</text>
<rect x="400.90" y="323.50" width="7.20" height="8.60" fill="url(#dots)" stroke="#111" stroke-width="1.2"/>
<text transform="translate(411.9,330.3)" font-size="7.5" font-weight="bold" fill="#111" text-anchor="start" stroke="#111" stroke-width="0.05">UIS originally detected</text>
<text transform="translate(411.9,340.7)" font-size="7.5" font-weight="bold" fill="#111" text-anchor="start" stroke="#111" stroke-width="0.05">in the third quartile of</text>
<text transform="translate(411.9,351)" font-size="7.5" font-weight="bold" fill="#111" text-anchor="start" stroke="#111" stroke-width="0.05">the PVL at t1</text>
<rect x="402.10" y="365.80" width="6.30" height="7.40" fill="#fff" stroke="#111" stroke-width="1.2"/>
<svg x="401.5" y="365.2" width="7.50" height="8.60" overflow="hidden"><line x1="-21.48" y1="19.07" x2="18.52" y2="-20.93" stroke="#111" stroke-width="1.7"/><line x1="-18.87" y1="21.68" x2="21.13" y2="-18.32" stroke="#111" stroke-width="1.7"/><line x1="-16.25" y1="24.30" x2="23.75" y2="-15.70" stroke="#111" stroke-width="1.7"/><line x1="-13.63" y1="26.92" x2="26.37" y2="-13.08" stroke="#111" stroke-width="1.7"/><line x1="-11.02" y1="29.53" x2="28.98" y2="-10.47" stroke="#111" stroke-width="1.7"/></svg>
<rect x="402.10" y="365.80" width="6.30" height="7.40" fill="none" stroke="#111" stroke-width="1.2"/>
<text transform="translate(413,371.4)" font-size="7.5" font-weight="bold" fill="#111" text-anchor="start" stroke="#111" stroke-width="0.05">UIS originally detected in</text>
<text transform="translate(413,381.9)" font-size="7.5" font-weight="bold" fill="#111" text-anchor="start" stroke="#111" stroke-width="0.05">the second quartile of</text>
<text transform="translate(413,392.4)" font-size="7.5" font-weight="bold" fill="#111" text-anchor="start" stroke="#111" stroke-width="0.05">the PVL at t1</text>
<rect x="400.90" y="402.10" width="6.60" height="8.00" fill="#000" stroke="#111" stroke-width="1.2"/>
<text transform="translate(412.2,408.7)" font-size="7.5" font-weight="bold" fill="#111" text-anchor="start" stroke="#111" stroke-width="0.05">UIS originally detected</text>
<text transform="translate(412.2,419.2)" font-size="7.5" font-weight="bold" fill="#111" text-anchor="start" stroke="#111" stroke-width="0.05">in the top quartile of</text>
<text transform="translate(412.2,429.2)" font-size="7.5" font-weight="bold" fill="#111" text-anchor="start" stroke="#111" stroke-width="0.05">the PVL at t1</text>
<text transform="translate(3.8,469.4)" font-size="13.5" font-weight="bold" fill="#111" text-anchor="start" stroke="#111" stroke-width="0.3">E</text>
<text transform="translate(18.5,469.9)" font-size="9.3" font-weight="bold" fill="#111" text-anchor="start" stroke="#111" stroke-width="0.3" textLength="162.3" lengthAdjust="spacingAndGlyphs">Abundance of newly detected UISs</text>
<line x1="54.1" y1="510" x2="54.1" y2="640.5" stroke="#111" stroke-width="1.8" />
<line x1="51.1" y1="510.40000000000003" x2="54.1" y2="510.40000000000003" stroke="#111" stroke-width="1.5" />
<text transform="translate(51.26,513.8000000000001)" font-size="10.2" font-weight="bold" fill="#111" text-anchor="end" textLength="13.42" lengthAdjust="spacingAndGlyphs">40</text>
<line x1="51.1" y1="542.85" x2="54.1" y2="542.85" stroke="#111" stroke-width="1.5" />
<text transform="translate(51.26,546.25)" font-size="10.2" font-weight="bold" fill="#111" text-anchor="end" textLength="13.42" lengthAdjust="spacingAndGlyphs">30</text>
<line x1="51.1" y1="575.3000000000001" x2="54.1" y2="575.3000000000001" stroke="#111" stroke-width="1.5" />
<text transform="translate(51.26,578.7)" font-size="10.2" font-weight="bold" fill="#111" text-anchor="end" textLength="13.42" lengthAdjust="spacingAndGlyphs">20</text>
<line x1="51.1" y1="607.75" x2="54.1" y2="607.75" stroke="#111" stroke-width="1.5" />
<text transform="translate(51.26,611.15)" font-size="10.2" font-weight="bold" fill="#111" text-anchor="end" textLength="13.42" lengthAdjust="spacingAndGlyphs">10</text>
<line x1="51.1" y1="640.2" x2="54.1" y2="640.2" stroke="#111" stroke-width="1.5" />
<text transform="translate(51.26,643.6)" font-size="10.2" font-weight="bold" fill="#111" text-anchor="end" textLength="6.32" lengthAdjust="spacingAndGlyphs">0</text>
<line x1="53.2" y1="640.2" x2="186.4" y2="640.2" stroke="#111" stroke-width="1.9" />
<text transform="translate(13.9,657.9) rotate(-90)" font-size="10.6" font-weight="bold" fill="#111" text-anchor="start" stroke="#111" stroke-width="0.15" textLength="158.3" lengthAdjust="spacingAndGlyphs">Percentage of the PVL at t2 made</text>
<text transform="translate(27.6,657.7) rotate(-90)" font-size="10.6" font-weight="bold" fill="#111" text-anchor="start" stroke="#111" stroke-width="0.15" textLength="118.8" lengthAdjust="spacingAndGlyphs">from newly detected UIS</text>
<rect x="56.60" y="612.70" width="8.40" height="27.50" fill="#000" stroke="#222" stroke-width="0.9"/>
<rect x="68.50" y="545.80" width="8.40" height="48.90" fill="#000" stroke="#222" stroke-width="0.9"/>
<rect x="68.50" y="594.70" width="8.40" height="26.00" fill="url(#hatch2)" stroke="#222" stroke-width="0.9"/>
<rect x="68.50" y="620.70" width="8.40" height="12.60" fill="url(#dots)" stroke="#222" stroke-width="0.9"/>
<rect x="68.50" y="633.30" width="8.40" height="6.90" fill="#fff" stroke="#222" stroke-width="0.9"/>
<rect x="80.40" y="608.80" width="8.40" height="25.30" fill="#000" stroke="#222" stroke-width="0.9"/>
<rect x="80.40" y="634.10" width="8.40" height="6.10" fill="url(#hatch2)" stroke="#222" stroke-width="0.9"/>
<rect x="92.30" y="559.80" width="8.40" height="47.10" fill="#000" stroke="#222" stroke-width="0.9"/>
<rect x="92.30" y="606.90" width="8.40" height="22.30" fill="url(#hatch2)" stroke="#222" stroke-width="0.9"/>
<rect x="92.30" y="629.20" width="8.40" height="11.00" fill="url(#dots)" stroke="#222" stroke-width="0.9"/>
<rect x="104.20" y="585.70" width="8.40" height="37.70" fill="#000" stroke="#222" stroke-width="0.9"/>
<rect x="104.20" y="623.40" width="8.40" height="11.40" fill="url(#hatch2)" stroke="#222" stroke-width="0.9"/>
<rect x="104.20" y="634.80" width="8.40" height="5.40" fill="url(#dots)" stroke="#222" stroke-width="0.9"/>
<rect x="116.10" y="593.80" width="8.40" height="37.70" fill="#000" stroke="#222" stroke-width="0.9"/>
<rect x="116.10" y="631.50" width="8.40" height="8.70" fill="url(#hatch2)" stroke="#222" stroke-width="0.9"/>
<rect x="128.00" y="581.70" width="8.40" height="58.50" fill="#000" stroke="#222" stroke-width="0.9"/>
<rect x="139.90" y="569.50" width="8.40" height="34.30" fill="#000" stroke="#222" stroke-width="0.9"/>
<rect x="139.90" y="603.80" width="8.40" height="11.60" fill="url(#hatch2)" stroke="#222" stroke-width="0.9"/>
<rect x="139.90" y="615.40" width="8.40" height="2.60" fill="url(#dots)" stroke="#222" stroke-width="0.9"/>
<rect x="139.90" y="618.00" width="8.40" height="22.20" fill="#fff" stroke="#222" stroke-width="0.9"/>
<rect x="151.80" y="579.50" width="8.40" height="36.90" fill="#000" stroke="#222" stroke-width="0.9"/>
<rect x="151.80" y="616.40" width="8.40" height="16.20" fill="url(#hatch2)" stroke="#222" stroke-width="0.9"/>
<rect x="151.80" y="632.60" width="8.40" height="7.60" fill="url(#dots)" stroke="#222" stroke-width="0.9"/>
<rect x="163.70" y="587.60" width="8.40" height="32.40" fill="#000" stroke="#222" stroke-width="0.9"/>
<rect x="163.70" y="620.00" width="8.40" height="14.20" fill="url(#hatch2)" stroke="#222" stroke-width="0.9"/>
<rect x="163.70" y="634.20" width="8.40" height="6.00" fill="url(#dots)" stroke="#222" stroke-width="0.9"/>
<rect x="175.60" y="584.40" width="8.40" height="42.30" fill="#000" stroke="#222" stroke-width="0.9"/>
<rect x="175.60" y="626.70" width="8.40" height="11.30" fill="url(#hatch2)" stroke="#222" stroke-width="0.9"/>
<rect x="175.60" y="638.00" width="8.40" height="2.20" fill="url(#dots)" stroke="#222" stroke-width="0.9"/>
<line x1="60.800000000000004" y1="640.2" x2="60.800000000000004" y2="642.8000000000001" stroke="#111" stroke-width="1.3" />
<text transform="translate(58.50000000000001,650.0) rotate(-45)" font-size="7.0" font-weight="bold" fill="#111" text-anchor="end" stroke="#111" stroke-width="0.3">TBK</text>
<line x1="72.7" y1="640.2" x2="72.7" y2="642.8000000000001" stroke="#111" stroke-width="1.3" />
<text transform="translate(70.4,650.0) rotate(-45)" font-size="7.0" font-weight="bold" fill="#111" text-anchor="end" stroke="#111" stroke-width="0.3">TBC</text>
<line x1="84.60000000000001" y1="640.2" x2="84.60000000000001" y2="642.8000000000001" stroke="#111" stroke-width="1.3" />
<text transform="translate(82.30000000000001,650.0) rotate(-45)" font-size="7.0" font-weight="bold" fill="#111" text-anchor="end" stroke="#111" stroke-width="0.3">TBG</text>
<line x1="96.50000000000001" y1="640.2" x2="96.50000000000001" y2="642.8000000000001" stroke="#111" stroke-width="1.3" />
<text transform="translate(94.20000000000002,650.0) rotate(-45)" font-size="7.0" font-weight="bold" fill="#111" text-anchor="end" stroke="#111" stroke-width="0.3">TAL</text>
<line x1="108.4" y1="640.2" x2="108.4" y2="642.8000000000001" stroke="#111" stroke-width="1.3" />
<text transform="translate(106.10000000000001,650.0) rotate(-45)" font-size="7.0" font-weight="bold" fill="#111" text-anchor="end" stroke="#111" stroke-width="0.3">TBW</text>
<line x1="120.3" y1="640.2" x2="120.3" y2="642.8000000000001" stroke="#111" stroke-width="1.3" />
<text transform="translate(118.0,650.0) rotate(-45)" font-size="7.0" font-weight="bold" fill="#111" text-anchor="end" stroke="#111" stroke-width="0.3">TW</text>
<line x1="132.2" y1="640.2" x2="132.2" y2="642.8000000000001" stroke="#111" stroke-width="1.3" />
<text transform="translate(129.89999999999998,650.0) rotate(-45)" font-size="7.0" font-weight="bold" fill="#111" text-anchor="end" stroke="#111" stroke-width="0.3">TAA</text>
<line x1="144.1" y1="640.2" x2="144.1" y2="642.8000000000001" stroke="#111" stroke-width="1.3" />
<text transform="translate(141.79999999999998,650.0) rotate(-45)" font-size="7.0" font-weight="bold" fill="#111" text-anchor="end" stroke="#111" stroke-width="0.3">TAW</text>
<line x1="156.0" y1="640.2" x2="156.0" y2="642.8000000000001" stroke="#111" stroke-width="1.3" />
<text transform="translate(153.7,650.0) rotate(-45)" font-size="7.0" font-weight="bold" fill="#111" text-anchor="end" stroke="#111" stroke-width="0.3">TAY</text>
<line x1="167.9" y1="640.2" x2="167.9" y2="642.8000000000001" stroke="#111" stroke-width="1.3" />
<text transform="translate(165.6,650.0) rotate(-45)" font-size="7.0" font-weight="bold" fill="#111" text-anchor="end" stroke="#111" stroke-width="0.3">UV1</text>
<line x1="179.79999999999998" y1="640.2" x2="179.79999999999998" y2="642.8000000000001" stroke="#111" stroke-width="1.3" />
<text transform="translate(177.49999999999997,650.0) rotate(-45)" font-size="7.0" font-weight="bold" fill="#111" text-anchor="end" stroke="#111" stroke-width="0.3">HAY</text>
<rect x="200.70" y="509.10" width="6.50" height="6.80" fill="#000" stroke="#111" stroke-width="1.2"/>
<text transform="translate(211.4,515.6)" font-size="7.6" font-weight="bold" fill="#111" text-anchor="start" stroke="#111" stroke-width="0.05">Newly detected UIS in</text>
<text transform="translate(211.4,526.3)" font-size="7.6" font-weight="bold" fill="#111" text-anchor="start" stroke="#111" stroke-width="0.05">the bottom quartile of</text>
<text transform="translate(211.4,536.4)" font-size="7.6" font-weight="bold" fill="#111" text-anchor="start" stroke="#111" stroke-width="0.05">the PVL at t2</text>
<rect x="200.90" y="548.60" width="6.90" height="7.80" fill="#fff" stroke="#111" stroke-width="1.2"/>
<svg x="200.3" y="548" width="8.10" height="9.00" overflow="hidden"><line x1="-21.18" y1="19.27" x2="18.82" y2="-20.73" stroke="#111" stroke-width="1.7"/><line x1="-18.57" y1="21.88" x2="21.43" y2="-18.12" stroke="#111" stroke-width="1.7"/><line x1="-15.95" y1="24.50" x2="24.05" y2="-15.50" stroke="#111" stroke-width="1.7"/><line x1="-13.33" y1="27.12" x2="26.67" y2="-12.88" stroke="#111" stroke-width="1.7"/><line x1="-10.72" y1="29.73" x2="29.28" y2="-10.27" stroke="#111" stroke-width="1.7"/></svg>
<rect x="200.90" y="548.60" width="6.90" height="7.80" fill="none" stroke="#111" stroke-width="1.2"/>
<text transform="translate(211,554.7)" font-size="7.6" font-weight="bold" fill="#111" text-anchor="start" stroke="#111" stroke-width="0.05">Newly detected UIS in</text>
<text transform="translate(211,565.3)" font-size="7.6" font-weight="bold" fill="#111" text-anchor="start" stroke="#111" stroke-width="0.05">the third quartile of the</text>
<text transform="translate(211,575.6)" font-size="7.6" font-weight="bold" fill="#111" text-anchor="start" stroke="#111" stroke-width="0.05">PVL at t2</text>
<rect x="200.90" y="590.50" width="6.90" height="7.50" fill="url(#dots)" stroke="#111" stroke-width="1.2"/>
<text transform="translate(211,595.7)" font-size="7.6" font-weight="bold" fill="#111" text-anchor="start" stroke="#111" stroke-width="0.05">Newly detected UIS in</text>
<text transform="translate(211,606.3)" font-size="7.6" font-weight="bold" fill="#111" text-anchor="start" stroke="#111" stroke-width="0.05">the second quartile of</text>
<text transform="translate(211,616.4)" font-size="7.6" font-weight="bold" fill="#111" text-anchor="start" stroke="#111" stroke-width="0.05">the PVL at t2</text>
<rect x="201.80" y="632.10" width="7.20" height="7.10" fill="#fff" stroke="#111" stroke-width="1.2"/>
<text transform="translate(211.4,637.5)" font-size="7.6" font-weight="bold" fill="#111" text-anchor="start" stroke="#111" stroke-width="0.05">Newly detected UIS in</text>
<text transform="translate(211.4,648.3)" font-size="7.6" font-weight="bold" fill="#111" text-anchor="start" stroke="#111" stroke-width="0.05">the top quartile of the</text>
<text transform="translate(211.4,658.2)" font-size="7.6" font-weight="bold" fill="#111" text-anchor="start" stroke="#111" stroke-width="0.05">PVL at t2</text>
<text transform="translate(331.4,469.6)" font-size="13.3" font-weight="bold" fill="#111" text-anchor="start" stroke="#111" stroke-width="0.3">F</text>
<text transform="translate(346.1,469.6)" font-size="9.3" font-weight="bold" fill="#111" text-anchor="start" stroke="#111" stroke-width="0.3" textLength="92.5" lengthAdjust="spacingAndGlyphs">Growth rate of UISs</text>
<line x1="369.0" y1="509" x2="369.0" y2="640.2" stroke="#111" stroke-width="1.8" />
<line x1="365.5" y1="509.28" x2="369.0" y2="509.28" stroke="#111" stroke-width="1.5" />
<line x1="365.5" y1="541.8399999999999" x2="369.0" y2="541.8399999999999" stroke="#111" stroke-width="1.5" />
<line x1="365.5" y1="574.4" x2="369.0" y2="574.4" stroke="#111" stroke-width="1.5" />
<line x1="365.5" y1="606.96" x2="369.0" y2="606.96" stroke="#111" stroke-width="1.5" />
<line x1="365.5" y1="639.52" x2="369.0" y2="639.52" stroke="#111" stroke-width="1.5" />
<text transform="translate(363.93,511.8)" font-size="9.6" font-weight="bold" fill="#111" text-anchor="end" textLength="16.56" lengthAdjust="spacingAndGlyphs">0.4</text>
<text transform="translate(363.73,544.5)" font-size="9.6" font-weight="bold" fill="#111" text-anchor="end" textLength="16.56" lengthAdjust="spacingAndGlyphs">0.2</text>
<text transform="translate(361.73,578.6)" font-size="9.6" font-weight="bold" fill="#111" text-anchor="end" textLength="5.96" lengthAdjust="spacingAndGlyphs">0</text>
<text transform="translate(362.33,610.5)" font-size="9.6" font-weight="bold" fill="#111" text-anchor="end" textLength="19.66" lengthAdjust="spacingAndGlyphs">-0.2</text>
<text transform="translate(363.43,641.4)" font-size="9.6" font-weight="bold" fill="#111" text-anchor="end" textLength="18.46" lengthAdjust="spacingAndGlyphs">-0.4</text>
<line x1="367.5" y1="639.5" x2="455.5" y2="639.5" stroke="#111" stroke-width="1.9" />
<line x1="369.0" y1="574.3" x2="455.2" y2="574.3" stroke="#111" stroke-width="1.7" />
<text transform="translate(336.6,566.9) rotate(-90)" font-size="10.3" font-weight="bold" fill="#111" text-anchor="middle" stroke="#111" stroke-width="0.15" textLength="108.4" lengthAdjust="spacingAndGlyphs">Log (S2/S1) per decade</text>
<rect x="371.60" y="574.30" width="12.00" height="11.30" fill="#fff" stroke="#111" stroke-width="1.6"/>
<rect x="388.70" y="574.30" width="11.80" height="20.50" fill="#fff" stroke="#111" stroke-width="1.6"/>
<rect x="406.90" y="574.30" width="10.70" height="29.80" fill="#fff" stroke="#111" stroke-width="1.6"/>
<rect x="423.80" y="570.50" width="11.70" height="3.80" fill="#fff" stroke="#111" stroke-width="1.6"/>
<rect x="440.90" y="528.00" width="12.10" height="46.30" fill="#fff" stroke="#111" stroke-width="1.6"/>
<line x1="428.9" y1="559.8" x2="428.9" y2="570.5" stroke="#111" stroke-width="1.5" />
<line x1="426.4" y1="559.8" x2="431.4" y2="559.8" stroke="#111" stroke-width="1.5" />
<line x1="446.7" y1="510.4" x2="446.7" y2="528" stroke="#111" stroke-width="1.5" />
<line x1="443.5" y1="510.4" x2="449.9" y2="510.4" stroke="#111" stroke-width="1.5" />
<text transform="translate(428.2,555.4)" font-size="7.4" font-weight="bold" fill="#111" text-anchor="middle" stroke="#111" stroke-width="0.2" textLength="10.2" lengthAdjust="spacingAndGlyphs">NS</text>
<text transform="translate(445.8,509.6)" font-size="9" font-weight="bold" fill="#111" text-anchor="middle" stroke="#111" stroke-width="0.3">*</text>
<text transform="translate(378.0,593.8)" font-size="8.5" font-weight="bold" fill="#111" text-anchor="middle" stroke="#111" stroke-width="0.35" textLength="11.8" lengthAdjust="spacingAndGlyphs">***</text>
<text transform="translate(394.6,602.2)" font-size="8.5" font-weight="bold" fill="#111" text-anchor="middle" stroke="#111" stroke-width="0.35" textLength="11.8" lengthAdjust="spacingAndGlyphs">***</text>
<text transform="translate(412.2,613.2)" font-size="8.5" font-weight="bold" fill="#111" text-anchor="middle" stroke="#111" stroke-width="0.35" textLength="11.8" lengthAdjust="spacingAndGlyphs">***</text>
<line x1="407.5" y1="605.2" x2="417" y2="605.2" stroke="#111" stroke-width="1.6" />
<line x1="457.8" y1="568.6" x2="457.8" y2="523" stroke="#111" stroke-width="1.7" />
<path d="M454.9,525.0 L457.8,516.6 L460.9,525.0 Z" fill="#111"/>
<line x1="457.8" y1="580.3" x2="457.8" y2="629" stroke="#111" stroke-width="1.7" />
<path d="M454.9,627.4 L457.8,635.8 L460.9,627.4 Z" fill="#111"/>
<text transform="translate(467.0,565.2) rotate(-90)" font-size="7.5" font-weight="bold" fill="#111" text-anchor="start" stroke="#111" stroke-width="0.1" textLength="26.6" lengthAdjust="spacingAndGlyphs">Positive</text>
<text transform="translate(476.3,565.2) rotate(-90)" font-size="7.5" font-weight="bold" fill="#111" text-anchor="start" stroke="#111" stroke-width="0.1" textLength="22.9" lengthAdjust="spacingAndGlyphs">fitness</text>
<text transform="translate(467.0,621.4) rotate(-90)" font-size="7.5" font-weight="bold" fill="#111" text-anchor="start" stroke="#111" stroke-width="0.1" textLength="28.2" lengthAdjust="spacingAndGlyphs">Negative</text>
<text transform="translate(476.3,621.4) rotate(-90)" font-size="7.5" font-weight="bold" fill="#111" text-anchor="start" stroke="#111" stroke-width="0.1" textLength="20.5" lengthAdjust="spacingAndGlyphs">fitness</text>
<line x1="377.3" y1="639.5" x2="377.3" y2="642.2" stroke="#111" stroke-width="1.4" />
<line x1="394.6" y1="639.5" x2="394.6" y2="642.2" stroke="#111" stroke-width="1.4" />
<line x1="412.3" y1="639.5" x2="412.3" y2="642.2" stroke="#111" stroke-width="1.4" />
<line x1="429" y1="639.5" x2="429" y2="642.2" stroke="#111" stroke-width="1.4" />
<line x1="446.9" y1="639.5" x2="446.9" y2="642.2" stroke="#111" stroke-width="1.4" />
<text transform="translate(371,645.3) rotate(-45)" font-size="7.5" font-weight="bold" fill="#111" text-anchor="end" stroke="#111" stroke-width="0.3">0.1 and</text>
<text transform="translate(375,654.3) rotate(-45)" font-size="7.5" font-weight="bold" fill="#111" text-anchor="end" stroke="#111" stroke-width="0.3">below</text>
<text transform="translate(395.5,646.8) rotate(-45)" font-size="7.5" font-weight="bold" fill="#111" text-anchor="end" stroke="#111" stroke-width="0.3">0.1 to 1</text>
<text transform="translate(410.5,648.3) rotate(-45)" font-size="7.5" font-weight="bold" fill="#111" text-anchor="end" stroke="#111" stroke-width="0.3">1 to 5</text>
<text transform="translate(426.8,646.8) rotate(-45)" font-size="7.5" font-weight="bold" fill="#111" text-anchor="end" stroke="#111" stroke-width="0.3">5 to 10</text>
<text transform="translate(443,647.3) rotate(-45)" font-size="7.5" font-weight="bold" fill="#111" text-anchor="end" stroke="#111" stroke-width="0.3">10 and</text>
<text transform="translate(448.8,656.9) rotate(-45)" font-size="7.5" font-weight="bold" fill="#111" text-anchor="end" stroke="#111" stroke-width="0.3">above</text>
<text transform="translate(347.6,684.7)" font-size="9.6" font-weight="bold" fill="#111" text-anchor="start" stroke="#111" stroke-width="0.15" textLength="135" lengthAdjust="spacingAndGlyphs">UIS abundance as (S1+S2)/2</text>
<text transform="translate(347.6,697.4)" font-size="9.6" font-weight="bold" fill="#111" text-anchor="start" stroke="#111" stroke-width="0.15" textLength="133.6" lengthAdjust="spacingAndGlyphs">(number per 10,000 PBMCs)</text>
</svg>
</body></html>
